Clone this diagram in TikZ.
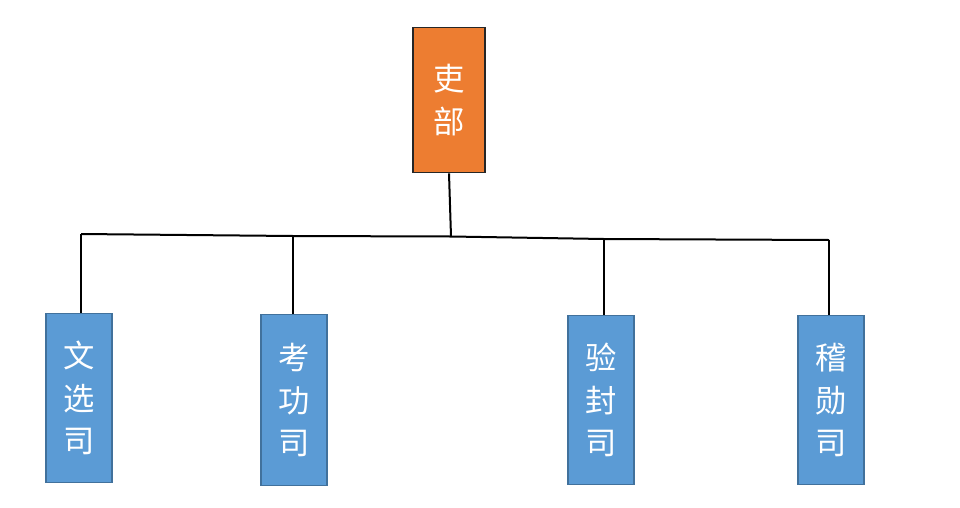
\documentclass[tikz,border=0pt]{standalone}
\usepackage{fontspec}
\newfontfamily\cjk{Noto Sans CJK SC}
\usetikzlibrary{positioning}
\definecolor{boss}{HTML}{ED7D31}
\definecolor{dept}{HTML}{5B9BD5}
\definecolor{deptline}{HTML}{41719C}
\begin{document}
\begin{tikzpicture}[x=0.75pt, y=-0.75pt, -, line width=1.5pt,
                top node/.style={rectangle,draw=black!85,line width=1.1pt,fill=boss,text=white,
                  minimum width=54pt,minimum height=109pt,align=center,
                  font=\cjk\fontsize{23.5}{32}\selectfont},
                sub node/.style={rectangle,draw=deptline,line width=0.8pt,fill=dept,text=white,
                  minimum width=49.5pt,minimum height=127pt,align=center,
                  font=\cjk\fontsize{23.5}{32}\selectfont}]
  \useasboundingbox (0,0) rectangle (960,507);

  \node[top node] (libu) at (449,100) {吏\\部};
  \node[sub node] (wenxuan) at (79,398) {文\\选\\司};
  \node[sub node, minimum height=128pt] (kaogong) at (294,400) {考\\功\\司};
  \node[sub node] (yanfeng) at (601,400) {验\\封\\司};
  \node[sub node] (jixun) at (831,400) {稽\\勋\\司};

  % the bar
  \coordinate (b1) at (81,234);
  \coordinate (b2) at (293,236);
  \coordinate (hub) at (451,236.5);
  \coordinate (b3) at (604,239);
  \coordinate (b4) at (829,240);

  \draw (libu.south) -- (hub);
  \draw (b1) -- (b2) -- (hub) -- (b3) -- (b4);
  \path
    (b1) edge (b1 |- wenxuan.north)
    (b2) edge (b2 |- kaogong.north)
    (b3) edge (b3 |- yanfeng.north)
    (b4) edge (b4 |- jixun.north);
\end{tikzpicture}
\end{document}
